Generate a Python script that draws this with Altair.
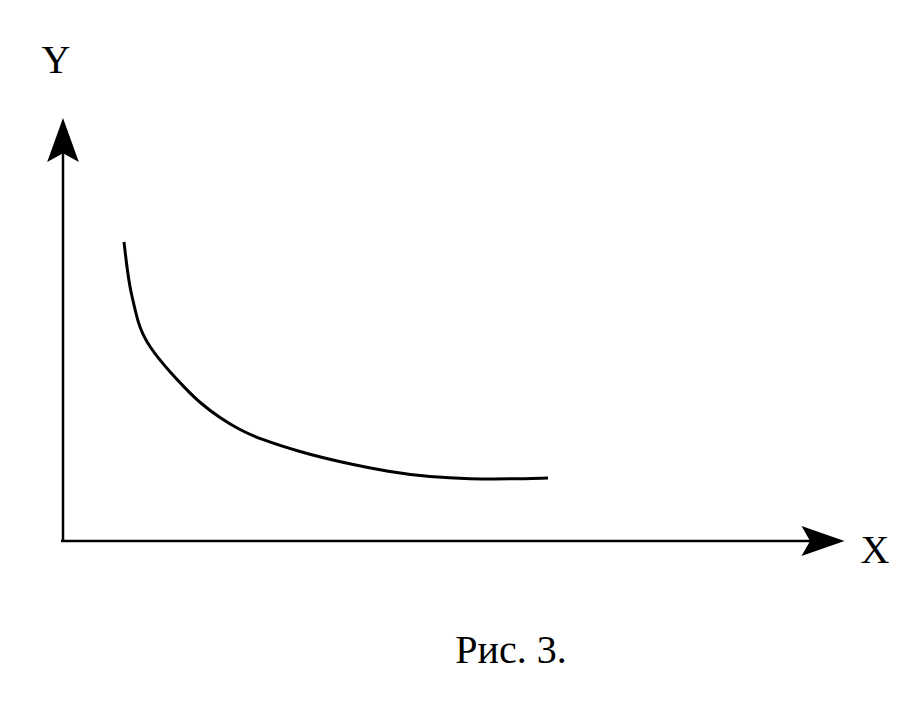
import altair as alt
import pandas as pd

# Curve values (axis origin = 0,0)
curve_x = [0.61, 0.64, 0.67, 0.71, 0.75, 0.80, 0.87, 0.96, 1.07, 1.22, 1.37,
           1.57, 1.77, 1.97, 2.37, 2.77, 3.27, 3.67, 4.07, 4.47, 4.85]
curve_y = [2.98, 2.72, 2.52, 2.35, 2.18, 2.05, 1.93, 1.81, 1.68, 1.52, 1.37,
           1.22, 1.10, 1.01, 0.88, 0.78, 0.68, 0.63, 0.61, 0.61, 0.62]

# Axis extents
x_axis_end = 7.6
y_axis_end = 4.0

# Labels
label_texts = ["Y", "X", "Рис. 3."]
label_x = [-0.07, 8.12, 4.48]
label_y = [4.67, -0.23, -1.23]

XD = [-0.55, 8.47]
YD = [-1.55, 5.32]

xs = alt.Scale(domain=XD, nice=False, zero=False)
ys = alt.Scale(domain=YD, nice=False, zero=False)

curve_df = pd.DataFrame({"x": curve_x, "y": curve_y})
axes_df = pd.DataFrame({
    "x": [-0.02, 0.0], "x2": [x_axis_end, 0.0],
    "y": [-0.01, -0.01], "y2": [-0.01, y_axis_end],
})
up_df = pd.DataFrame({"x": [0.0], "y": [y_axis_end]})
right_df = pd.DataFrame({"x": [x_axis_end], "y": [-0.01]})
lab_df = pd.DataFrame({"t": label_texts, "x": label_x, "y": label_y})

X = lambda f: alt.X(f, type="quantitative", scale=xs, axis=None)
Y = lambda f: alt.Y(f, type="quantitative", scale=ys, axis=None)

axes = alt.Chart(axes_df).mark_rule(color="black", strokeWidth=2.5).encode(
    x=X("x"), x2="x2", y=Y("y"), y2="y2"
)

up_arrow = alt.Chart(up_df).mark_point(
    shape="M0,-1 L0.72,1 L0,0.6 L-0.72,1 Z", size=1936,
    filled=True, color="black", opacity=1, strokeWidth=0
).encode(x=X("x"), y=Y("y"))

right_arrow = alt.Chart(right_df).mark_point(
    shape="M1,0 L-1,0.7 L-0.6,0 L-1,-0.7 Z", size=1849,
    filled=True, color="black", opacity=1, strokeWidth=0
).encode(x=X("x"), y=Y("y"))

curve = alt.Chart(curve_df).mark_line(
    color="black", strokeWidth=3, interpolate="basis"
).encode(x=X("x"), y=Y("y"), order="x:Q")

labels = alt.Chart(lab_df).mark_text(
    font="Liberation Serif", fontSize=40, color="black",
    align="center", baseline="alphabetic"
).encode(x=X("x"), y=Y("y"), text="t:N")

chart = alt.layer(axes, curve, up_arrow, right_arrow, labels).properties(
    width=902, height=687, padding=0, background="white"
).configure_view(stroke=None)

chart.save("out.html", embed_options={"renderer": "svg", "actions": False})
